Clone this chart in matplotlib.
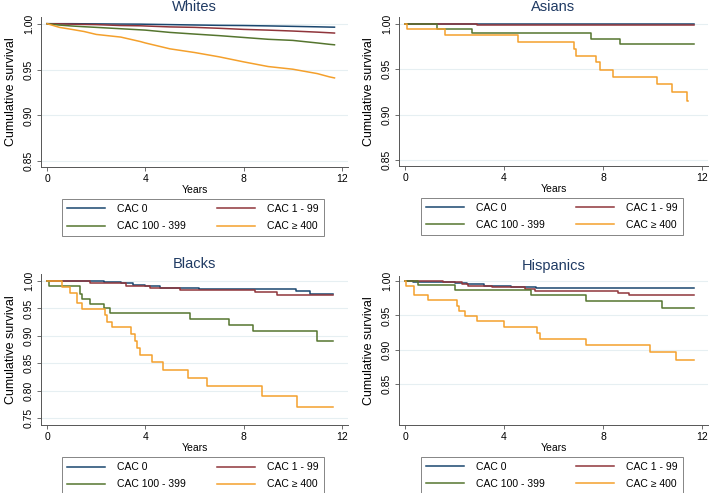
import matplotlib
matplotlib.use('Agg')
import matplotlib.pyplot as plt

plt.rcParams['font.family'] = ['Liberation Sans', 'DejaVu Sans']

labels = ['CAC 0', 'CAC 1 - 99', 'CAC 100 - 399', 'CAC \u2265 400']
colors = ['#1a476f', '#90353b', '#55752f', '#f4a02c']

# Whites (smooth curves)
w_t = [0, 0.5, 1, 1.5, 2, 3, 3.8, 4, 5, 6, 7, 8, 9, 10, 11, 11.5, 11.7]
w_s0 = [1, 1, 1, 0.9999, 0.9998, 0.9996, 0.9995, 0.9994, 0.999, 0.9986, 0.9982, 0.998, 0.9976, 0.9971, 0.9966, 0.9963, 0.9962]
w_s1 = [1, 0.9998, 0.9995, 0.9992, 0.999, 0.998, 0.9977, 0.9975, 0.9965, 0.996, 0.995, 0.9938, 0.993, 0.992, 0.9908, 0.9901, 0.9898]
w_s2 = [1, 0.9985, 0.9975, 0.9967, 0.996, 0.9945, 0.9933, 0.993, 0.9905, 0.9887, 0.987, 0.985, 0.983, 0.9818, 0.979, 0.9775, 0.977]
w_s3 = [1, 0.996, 0.9938, 0.9915, 0.9883, 0.9854, 0.9805, 0.979, 0.9726, 0.9686, 0.9639, 0.9584, 0.9533, 0.9504, 0.9456, 0.942, 0.9409]

# Asians
a_t0 = [0, 11.7]
a_s0 = [1, 1]
a_t1 = [0, 2.9, 11.7]
a_s1 = [1, 0.998, 0.998]
a_t2 = [0, 1.3, 2.7, 7.5, 8.7, 11.7]
a_s2 = [1, 0.9945, 0.9894, 0.9836, 0.978, 0.978]
a_t3 = [0, 0.07, 1.6, 4.55, 6.83, 6.9, 7.7, 7.9, 8.4, 10.2, 10.8, 11.4, 11.45]
a_s3 = [1, 0.9938, 0.9876, 0.980, 0.9726, 0.965, 0.9577, 0.949, 0.942, 0.9336, 0.925, 0.915, 0.915]

# Blacks
b_t0 = [0, 2.3, 3.0, 3.5, 4.0, 4.6, 6.2, 10.15, 10.7, 11.65]
b_s0 = [1, 0.998, 0.996, 0.993, 0.990, 0.988, 0.986, 0.981, 0.976, 0.976]
b_t1 = [0, 1.75, 3.2, 4.2, 5.4, 8.45, 9.35, 11.65]
b_s1 = [1, 0.997, 0.991, 0.988, 0.984, 0.980, 0.975, 0.975]
b_t2 = [0, 0.07, 1.33, 1.42, 1.76, 2.3, 2.57, 5.8, 7.4, 8.4, 11.0, 11.65]
b_s2 = [1, 0.9915, 0.976, 0.967, 0.9575, 0.950, 0.941, 0.931, 0.920, 0.908, 0.891, 0.891]
b_t3 = [0, 0.6, 0.92, 1.22, 1.42, 2.37, 2.44, 2.64, 3.42, 3.59, 3.65, 3.79, 4.26, 4.7, 5.72, 6.5, 8.73, 10.19, 11.65]
b_s3 = [1, 0.989, 0.9775, 0.9594, 0.949, 0.938, 0.926, 0.917, 0.903, 0.890, 0.877, 0.865, 0.852, 0.838, 0.824, 0.808, 0.7913, 0.770, 0.770]

# Hispanics
h_t0 = [0, 0.3, 2.0, 2.5, 3.2, 4.3, 5.3, 11.7]
h_s0 = [1, 0.999, 0.997, 0.995, 0.993, 0.991, 0.9895, 0.9895]
h_t1 = [0, 1.53, 2.28, 2.55, 3.5, 4.86, 5.27, 8.6, 9.04, 11.7]
h_s1 = [1, 0.998, 0.995, 0.993, 0.991, 0.988, 0.985, 0.982, 0.9795, 0.9795]
h_t2 = [0, 0.5, 2.0, 5.1, 7.3, 10.4, 11.7]
h_s2 = [1, 0.9935, 0.987, 0.979, 0.9705, 0.9605, 0.9605]
h_t3 = [0, 0.05, 0.37, 0.92, 2.08, 2.17, 2.42, 2.9, 3.98, 5.33, 5.47, 7.3, 9.9, 10.96, 11.7]
h_s3 = [1, 0.993, 0.979, 0.972, 0.964, 0.957, 0.949, 0.9415, 0.9325, 0.925, 0.916, 0.907, 0.897, 0.885, 0.885]

W, H = 709, 493
fig = plt.figure(figsize=(W / 100, H / 100), dpi=100)


def make_ax(l, r, t, b):
    return fig.add_axes([l / W, 1 - b / H, (r - l) / W, (b - t) / H])


panels = [
    ('Whites', make_ax(41, 348, 17, 167), [(w_t, w_s0), (w_t, w_s1), (w_t, w_s2), (w_t, w_s3)],
     False, (0.8438, 1.0073), [0.85, 0.90, 0.95, 1.00]),
    ('Asians', make_ax(399, 708, 17, 166), [(a_t0, a_s0), (a_t1, a_s1), (a_t2, a_s2), (a_t3, a_s3)],
     True, (0.8438, 1.0073), [0.85, 0.90, 0.95, 1.00]),
    ('Blacks', make_ax(41, 348, 274, 425), [(b_t0, b_s0), (b_t1, b_s1), (b_t2, b_s2), (b_t3, b_s3)],
     True, (0.7376, 1.0127), [0.75, 0.80, 0.85, 0.90, 0.95, 1.00]),
    ('Hispanics', make_ax(399, 708, 276, 425), [(h_t0, h_s0), (h_t1, h_s1), (h_t2, h_s2), (h_t3, h_s3)],
     True, (0.7907, 1.0073), [0.85, 0.90, 0.95, 1.00]),
]

for title, ax, series, steps, ylim, yticks in panels:
    handles = []
    for (t, s), c, lab in zip(series, colors, labels):
        if steps:
            ln, = ax.step(t, s, where='post', color=c, lw=1.1, label=lab)
        else:
            ln, = ax.plot(t, s, color=c, lw=1.1, label=lab)
        handles.append(ln)
    ax.set_xlim(-0.25, 12.25)
    ax.set_ylim(*ylim)
    ax.set_xticks([0, 4, 8, 12])
    ax.set_yticks(yticks)
    ax.set_yticklabels(['%.2f' % v for v in yticks], rotation=90, va='center')
    ax.grid(axis='y', color='#e6eff2', lw=0.8)
    ax.set_axisbelow(True)
    for sp in ['top', 'right']:
        ax.spines[sp].set_visible(False)
    for sp in ['left', 'bottom']:
        ax.spines[sp].set_color('#555555')
        ax.spines[sp].set_linewidth(0.7)
    ax.tick_params(labelsize=7.5, length=3, width=0.6, color='#555555', pad=2)
    ax.set_title(title, fontsize=10.5, color='#1f3a63', pad=4)
    ax.set_xlabel('Years', fontsize=7.5, labelpad=1)
    ax.set_ylabel('Cumulative survival', fontsize=9, labelpad=5)
    order = [0, 2, 1, 3]
    leg = ax.legend([handles[i] for i in order], [labels[i] for i in order],
                    ncol=2, loc='upper center', bbox_to_anchor=(0.495, -0.215),
                    fontsize=7.5, frameon=True, fancybox=False, edgecolor='#666666',
                    handlelength=3.6, columnspacing=3.0, handletextpad=1.2,
                    borderpad=0.45, labelspacing=0.7, borderaxespad=0)
    leg.get_frame().set_linewidth(0.7)

fig.savefig('out.png', dpi=100)
